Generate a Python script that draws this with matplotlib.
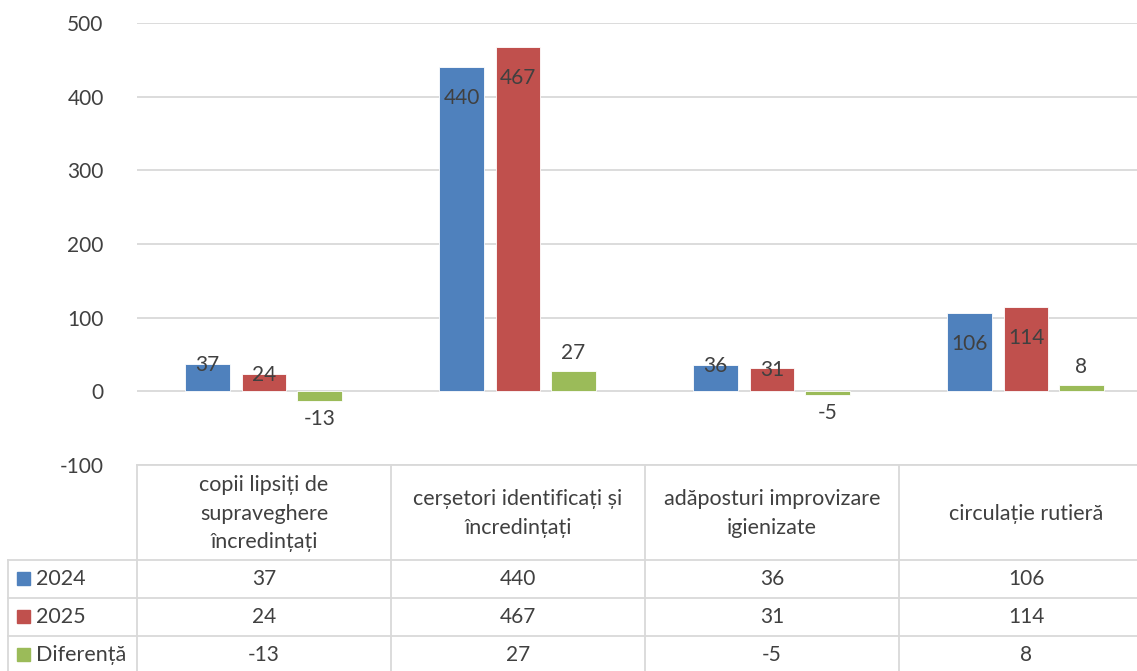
import matplotlib.pyplot as plt
import numpy as np

plt.rcParams['font.family'] = ['Lato', 'DejaVu Sans']
plt.rcParams['axes.unicode_minus'] = False

categories = ['copii lipsiți de\nsupraveghere\nîncredințați',
              'cerșetori identificați și\nîncredințați',
              'adăposturi improvizare\nigienizate',
              'circulație rutieră']
series_names = ['2024', '2025', 'Diferență']
v2024 = [37, 440, 36, 106]
v2025 = [24, 467, 31, 114]
diff = [-13, 27, -5, 8]
colors = ['#4F81BD', '#C0504D', '#9BBB59']
text_col = '#404040'
grid_col = '#D9D9D9'

W, H = 1137, 671
fig = plt.figure(figsize=(W / 100, H / 100), dpi=100)

# pixel layout
x_left, x_right = 137, 1153
y_top, y_bot = 23, 465
ax = fig.add_axes([x_left / W, (H - y_bot) / H, (x_right - x_left) / W, (y_bot - y_top) / H])

x = np.arange(len(categories))
w = 0.177
offs = [-0.222, 0.0, 0.218]
all_vals = [v2024, v2025, diff]
for vals, off, c in zip(all_vals, offs, colors):
    ax.bar(x + off, vals, w, color=c, edgecolor='white', linewidth=0.6, zorder=3)

# data labels
for vals, off in zip(all_vals[:2], offs[:2]):
    for xi, v in zip(x, vals):
        if v > 60:
            ax.annotate(str(v), (xi + off, v), xytext=(0, -15), textcoords='offset points',
                        ha='center', va='top', fontsize=15, color=text_col, zorder=4)
        else:
            ax.annotate(str(v), (xi + off, v), xytext=(0, -1), textcoords='offset points',
                        ha='center', va='center', fontsize=15, color=text_col, zorder=4)
for xi, v in zip(x, diff):
    ax.annotate(str(v), (xi + offs[2], v), xytext=(0, 6 if v >= 0 else -6),
                textcoords='offset points', ha='center',
                va='bottom' if v >= 0 else 'top', fontsize=15, color=text_col, zorder=4)

ax.set_xlim(-0.5, len(categories) - 0.5)
ax.set_ylim(-100, 500)
ax.set_yticks(range(-100, 501, 100))
ax.yaxis.grid(True, color=grid_col, linewidth=1.3, zorder=0)
ax.set_xticks([])
ax.tick_params(axis='y', length=0, pad=24, labelsize=15, labelcolor=text_col)
for s in ax.spines.values():
    s.set_visible(False)

# data table drawn in pixel coordinates
tb = fig.add_axes([0, 0, 1, 1], zorder=5)
tb.set_xlim(0, W)
tb.set_ylim(H, 0)
tb.axis('off')
tb.patch.set_alpha(0)

col_edges = [x_left + i * (x_right - x_left) / len(categories) for i in range(len(categories) + 1)]
row_edges = [465, 560, 598, 636, 674]
lab_left = 8
lw = 1.3

tb.plot([x_left, W], [row_edges[0]] * 2, color=grid_col, lw=lw)
for ry in row_edges[1:]:
    tb.plot([lab_left, W], [ry, ry], color=grid_col, lw=lw)
for cx in col_edges:
    tb.plot([cx, cx], [row_edges[0], H], color=grid_col, lw=lw)
tb.plot([lab_left, lab_left], [row_edges[1], H], color=grid_col, lw=lw)

for i, cat in enumerate(categories):
    cx = (col_edges[i] + col_edges[i + 1]) / 2
    tb.text(cx, (row_edges[0] + row_edges[1]) / 2 + 1, cat, ha='center', va='center',
            fontsize=15.5, color=text_col, linespacing=1.55)

for r, (name, vals, c) in enumerate(zip(series_names, all_vals, colors)):
    cy = (row_edges[r + 1] + row_edges[r + 2]) / 2
    tb.add_patch(plt.Rectangle((17, cy - 7), 13, 13, color=c))
    tb.text(36, cy, name, ha='left', va='center', fontsize=15.5, color=text_col)
    for i, v in enumerate(vals):
        cx = (col_edges[i] + col_edges[i + 1]) / 2
        tb.text(cx, cy, str(v), ha='center', va='center', fontsize=15, color=text_col)

fig.savefig('out.png', dpi=100)
